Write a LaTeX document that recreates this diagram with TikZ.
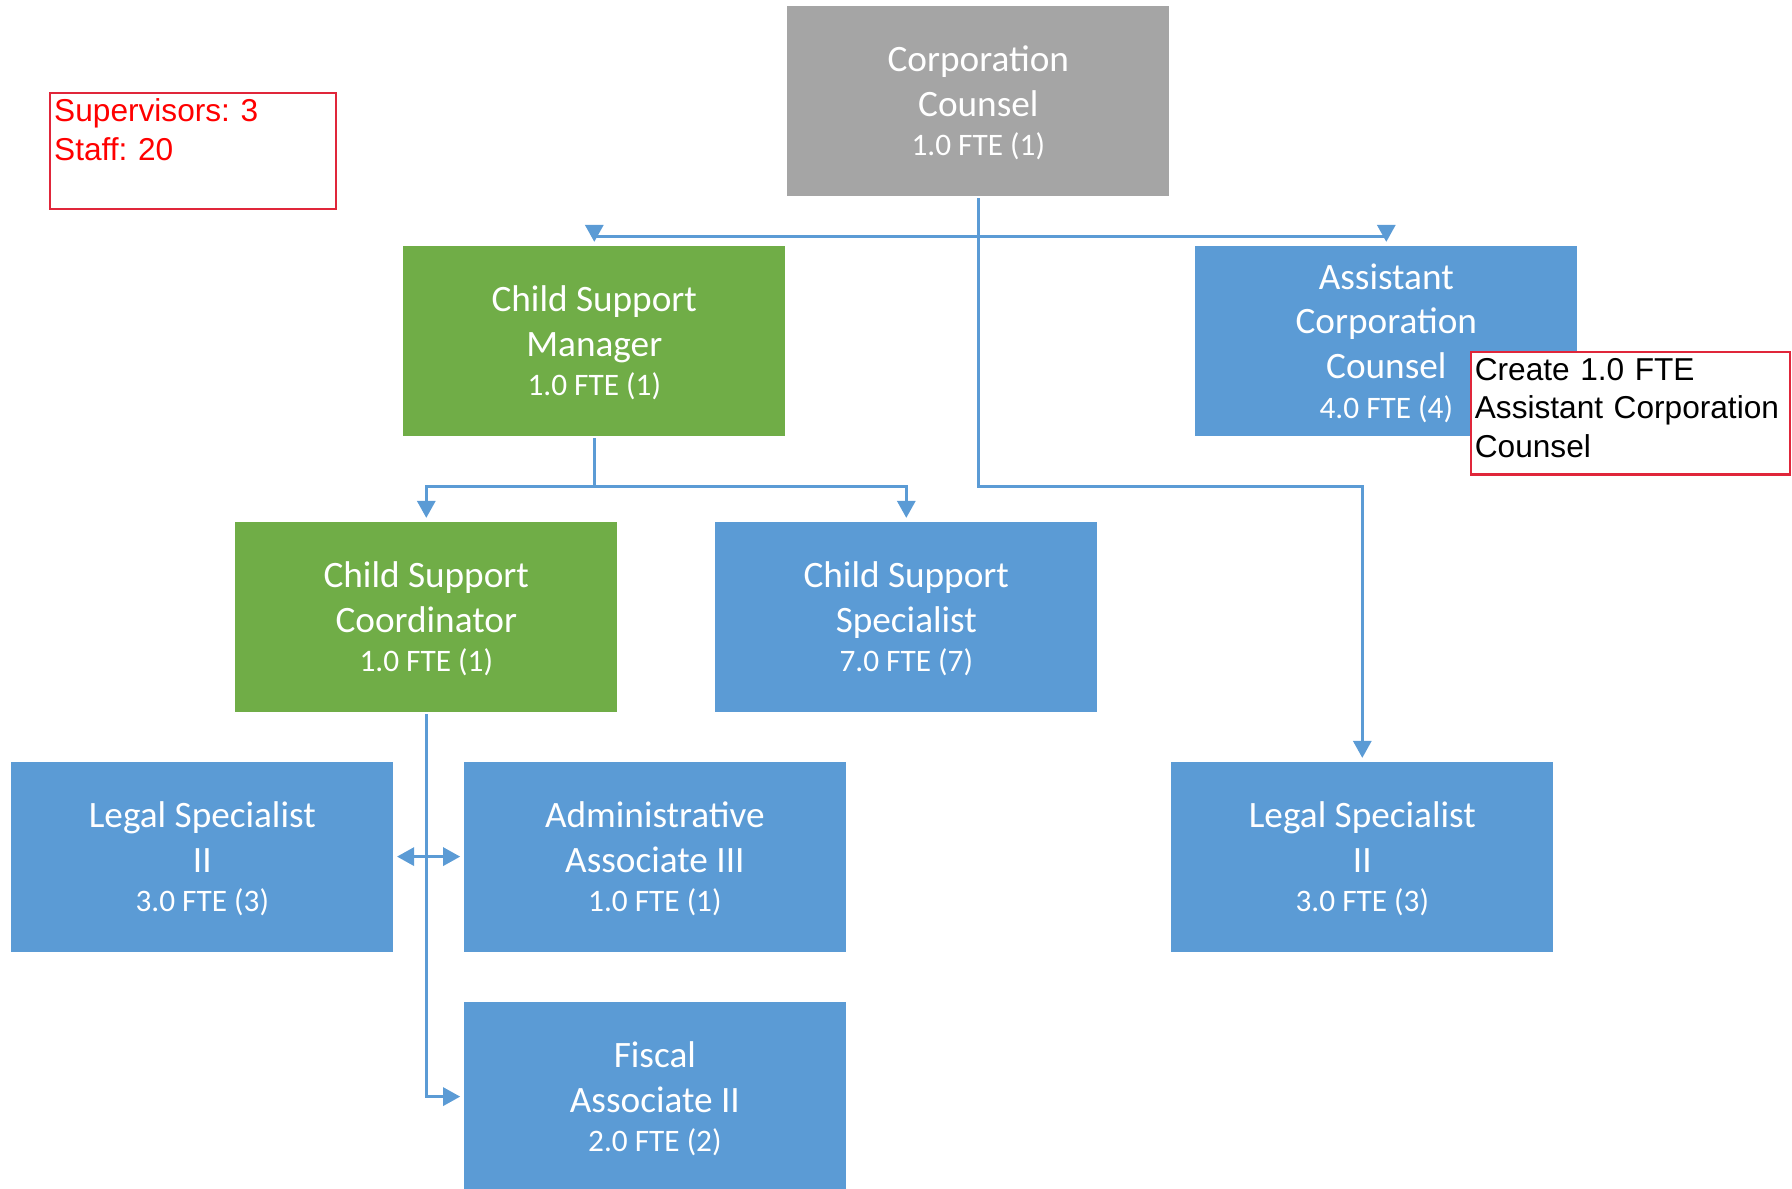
\documentclass[tikz,border=0pt]{standalone}
\usepackage{fontspec}
\setmainfont{Carlito}
\newfontfamily\arialfont{Liberation Sans}
\usetikzlibrary{arrows.meta}
\definecolor{boxgrey}{HTML}{A5A5A5}
\definecolor{boxgreen}{HTML}{70AD47}
\definecolor{boxblue}{HTML}{5B9BD5}
\definecolor{linkblue}{HTML}{5B9BD5}
\definecolor{noteframe}{HTML}{E0263A}
\definecolor{notered}{HTML}{FF0000}
\frenchspacing
% title lines, then the FTE line
\newcommand{\post}[2]{\rule{0pt}{8.7pt}#1\\[-1.4pt]{\fontsize{8.9}{12}\selectfont #2}}

\begin{document}
\begin{tikzpicture}[>={Triangle[length=1.7mm,width=1.8mm]},
  post/.style={rectangle, minimum width=3.82cm, minimum height=1.9cm, inner sep=0pt,
    text=white, align=center, font=\fontsize{10.6}{12.7}\selectfont},
  headpost/.style={post, fill=boxgrey},
  lead/.style={post, fill=boxgreen},
  staff/.style={post, fill=boxblue},
  link/.style={->, draw=linkblue, line width=0.85pt, shorten >=0.3mm, shorten <=0.2mm},
  note/.style={draw=noteframe, line width=0.65pt, anchor=north west, align=left,
    inner xsep=0.04cm, inner ysep=0.06cm, font=\arialfont\fontsize{9.0}{10.95}\selectfont}]
  \useasboundingbox (0,0) rectangle (17.92,-11.89);

  % boxes
  \node[headpost] (cc) at (9.783,-1.006) {\post{Corporation\\Counsel}{1.0 FTE (1)}};
  \node[lead]  (csm) at (5.943,-3.406)  {\post{Child Support\\Manager}{1.0 FTE (1)}};
  \node[staff] (acc) at (13.863,-3.406) {\post{Assistant\\Corporation\\Counsel}{4.0 FTE (4)}};
  \node[lead]  (csc) at (4.263,-6.166)  {\post{Child Support\\Coordinator}{1.0 FTE (1)}};
  \node[staff] (css) at (9.063,-6.166)  {\post{Child Support\\Specialist}{7.0 FTE (7)}};
  \node[staff] (lsl) at (2.023,-8.566)  {\post{Legal Specialist\\II}{3.0 FTE (3)}};
  \node[staff] (aa)  at (6.549,-8.566)  {\post{Administrative\\Associate III}{1.0 FTE (1)}};
  \node[staff] (lsr) at (13.623,-8.566) {\post{Legal Specialist\\II}{3.0 FTE (3)}};
  \node[staff] (fa)  at (6.549,-10.966) {\post{Fiscal\\Associate II}{2.0 FTE (2)}};

  % connectors
  \coordinate (split) at (9.783,-2.366);
  \coordinate (row) at (0,-4.869);
  \draw[link] (cc.south) -- (split) -| (csm.north);
  \draw[link] (split) -| (acc.north);
  \draw[link] (cc.south) |- (lsr.north |- row) -- (lsr.north);
  \draw[link] (csm.south) |- (csc.north |- row) -- (csc.north);
  \draw[link] (csm.south) |- (css.north |- row) -- (css.north);
  \draw[link] (csc.south) |- (lsl.east);
  \draw[link] (csc.south) |- (aa.west);
  \draw[link] (csc.south) |- (fa.west);

  % notes
  \node[note, text=notered, text width=2.778cm] (count)
    at (0.491,-0.917) {Supervisors: 3\\Staff: 20\\[1.3pt]\mbox{}};
  \node[note, fill=white, text width=3.109cm] (plan)
    at (14.697,-3.509) {Create 1.0 FTE\\\mbox{Assistant Corporation}\\Counsel\\[-7.7pt]\mbox{}};
\end{tikzpicture}
\end{document}
